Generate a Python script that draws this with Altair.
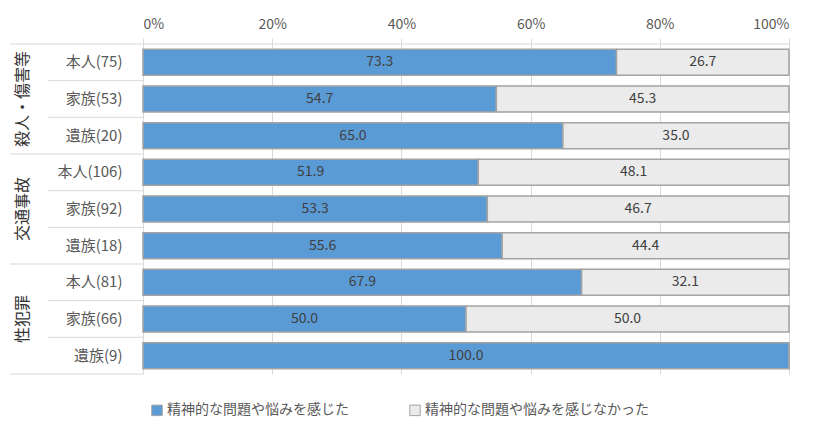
import altair as alt
import pandas as pd

rows = ["本人(75)", "家族(53)", "遺族(20)",
        "本人(106)", "家族(92)", "遺族(18)",
        "本人(81)", "家族(66)", "遺族(9)"]
groups = ["殺人・傷害等"] * 3 + ["交通事故"] * 3 + ["性犯罪"] * 3
felt = [73.3, 54.7, 65.0, 51.9, 53.3, 55.6, 67.9, 50.0, 100.0]
not_felt = [26.7, 45.3, 35.0, 48.1, 46.7, 44.4, 32.1, 50.0, 0.0]
categories = ["精神的な問題や悩みを感じた", "精神的な問題や悩みを感じなかった"]
group_names = ["殺人・傷害等", "交通事故", "性犯罪"]
x_ticks = [0, 20, 40, 60, 80, 100]

BLUE = "#5B9BD5"
GRAY = "#EBEBEB"
EDGE = "#A3A3A3"
TXT = "#404040"
LBL = "#595959"
LINE = "#D9D9D9"

recs = []
for r, g, a, b in zip(rows, groups, felt, not_felt):
    recs.append(dict(row=r, group=g, cat=categories[0], start=0.0, end=a, label=f"{a:.1f}"))
    recs.append(dict(row=r, group=g, cat=categories[1], start=a, end=a + b, label=f"{b:.1f}"))
df = pd.DataFrame(recs)
df["mid"] = (df["start"] + df["end"]) / 2
df["val"] = df["end"] - df["start"]

W, H = 646, 330

yenc = alt.Y("row:N", sort=rows,
             scale=alt.Scale(paddingInner=0, paddingOuter=0),
             axis=alt.Axis(title=None, ticks=False, domain=False, labelPadding=21,
                           labelFontSize=15, labelColor=LBL, grid=False))

base = alt.Chart(df)

bars = base.mark_bar(height=alt.RelativeBandSize(band=0.71), stroke=EDGE, strokeWidth=1.5).encode(
    x=alt.X("start:Q", scale=alt.Scale(domain=[0, 100], nice=False),
            axis=alt.Axis(orient="top", values=x_ticks, labelExpr="datum.value + '%'",
                          title=None, domain=False, grid=True, gridColor=LINE,
                          tickColor=LINE, tickSize=6, labelFontSize=14, labelColor=LBL,
                          labelPadding=7)),
    x2="end:Q",
    y=yenc,
    color=alt.Color("cat:N", scale=alt.Scale(domain=categories, range=[BLUE, GRAY]),
                    legend=alt.Legend(title=None, orient="none", legendX=7, legendY=359,
                                      direction="horizontal", symbolType="square",
                                      symbolSize=110, symbolStrokeColor=EDGE,
                                      symbolStrokeWidth=1, labelFontSize=14,
                                      labelColor=LBL, columnPadding=58, labelOffset=3,
                                      labelLimit=400)),
)

texts = base.transform_filter("datum.val > 0").mark_text(fontSize=14, color=TXT).encode(
    x="mid:Q",
    y=alt.Y("row:N", sort=rows),
    text="label:N",
)

inner_rows = [r for i, r in enumerate(rows) if i % 3 != 0]
group_first = [rows[3], rows[6]]
sep_df = pd.DataFrame({"row": rows})

inner = alt.Chart(sep_df).transform_filter(
    alt.FieldOneOfPredicate(field="row", oneOf=inner_rows)
).mark_rule(color=LINE, strokeWidth=1).encode(
    y=alt.Y("row:N", sort=rows, bandPosition=0), x=alt.value(-95), x2=alt.value(0))

gsep = alt.Chart(sep_df).transform_filter(
    alt.FieldOneOfPredicate(field="row", oneOf=group_first)
).mark_rule(color=LINE, strokeWidth=1).encode(
    y=alt.Y("row:N", sort=rows, bandPosition=0), x=alt.value(-133), x2=alt.value(0))

top = alt.Chart(sep_df).transform_filter(
    alt.FieldEqualPredicate(field="row", equal=rows[0])
).mark_rule(color=LINE, strokeWidth=1).encode(
    y=alt.Y("row:N", sort=rows, bandPosition=0), x=alt.value(-133), x2=alt.value(W))

bottom = alt.Chart(sep_df).transform_filter(
    alt.FieldEqualPredicate(field="row", equal=rows[-1])
).mark_rule(color=LINE, strokeWidth=1).encode(
    y=alt.Y("row:N", sort=rows, bandPosition=1), x=alt.value(-133), x2=alt.value(0))

gdf = pd.DataFrame({"group": group_names, "row": [rows[1], rows[4], rows[7]]})
glabels = alt.Chart(gdf).mark_text(angle=270, fontSize=16, color="#333333").encode(
    y=alt.Y("row:N", sort=rows), x=alt.value(-120), text="group:N")

chart = alt.layer(inner, gsep, top, bottom, bars, texts, glabels).properties(
    width=W, height=H,
    autosize=alt.AutoSizeParams(type="none"),
    padding={"left": 135, "top": 36, "right": 31, "bottom": 55},
).configure(font="Noto Sans CJK JP").configure_view(strokeWidth=0)

chart.save("out.html", embed_options={"renderer": "svg", "actions": False})
